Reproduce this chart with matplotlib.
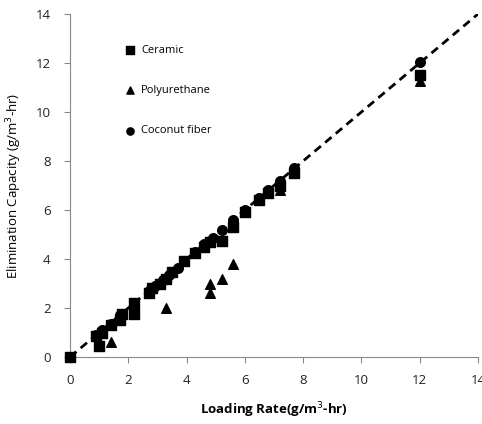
import matplotlib
matplotlib.use("Agg")
import matplotlib.pyplot as plt

plt.rcParams['font.family'] = ['Open Sans', 'DejaVu Sans']

ceramic_x = [0, 1.0, 0.9, 1.1, 1.4, 1.7, 1.8, 2.2, 2.2, 2.7, 2.8, 3.1, 3.3, 3.5, 3.9, 4.3, 4.6, 4.8, 5.2, 5.6, 6.0, 6.5, 6.8, 7.2, 7.7, 12.0]
ceramic_y = [0, 0.45, 0.85, 1.0, 1.3, 1.5, 1.75, 1.75, 2.2, 2.6, 2.8, 3.0, 3.2, 3.45, 3.9, 4.25, 4.5, 4.7, 4.75, 5.3, 5.9, 6.4, 6.7, 7.0, 7.5, 11.5]

poly_x = [0, 1.4, 3.3, 4.8, 4.8, 5.2, 5.6, 7.2, 12.0]
poly_y = [0, 0.6, 2.0, 2.6, 3.0, 3.2, 3.8, 6.8, 11.25]

coco_x = [0, 0.9, 1.1, 1.4, 1.7, 2.2, 2.7, 2.9, 3.2, 3.4, 3.7, 3.9, 4.3, 4.6, 4.9, 5.2, 5.6, 6.0, 6.5, 6.8, 7.2, 7.7, 12.0]
coco_y = [0, 0.9, 1.1, 1.35, 1.7, 2.15, 2.7, 2.9, 3.15, 3.35, 3.65, 3.9, 4.3, 4.6, 4.85, 5.2, 5.6, 6.0, 6.5, 6.8, 7.2, 7.7, 12.05]

fit_x = [0, 14]
fit_y = [0, 14]

xticks = [0, 2, 4, 6, 8, 10, 12, 14]
yticks = [0, 2, 4, 6, 8, 10, 12, 14]

fig = plt.figure(figsize=(4.82, 4.24), dpi=100)
ax = fig.add_axes([70/482, 67/424, 408/482, 343/424])

ax.plot(fit_x, fit_y, '--', color='black', lw=2, dashes=(3, 2), zorder=1)
ax.scatter(coco_x, coco_y, marker='o', s=48, color='black', label='Coconut fiber', zorder=3, clip_on=False)
ax.scatter(poly_x, poly_y, marker='^', s=48, color='black', label='Polyurethane', zorder=3, clip_on=False)
ax.scatter(ceramic_x, ceramic_y, marker='s', s=55, color='black', label='Ceramic', zorder=3, clip_on=False)

ax.set_xlim(0, 14)
ax.set_ylim(0, 14)
ax.set_xticks(xticks)
ax.set_yticks(yticks)
ax.tick_params(direction='out', length=4, color='#888888', labelsize=9.5, labelcolor='#222222', pad=8)
ax.tick_params(axis='y', pad=10)
for s in ['top', 'right']:
    ax.spines[s].set_visible(False)
for s in ['left', 'bottom']:
    ax.spines[s].set_color('#888888')
ax.set_xlabel('Loading Rate(g/m$^3$-hr)', fontsize=9.5, fontweight='bold', labelpad=10)
ax.set_ylabel('Elimination Capacity (g/m$^3$-hr)', fontsize=9.5, labelpad=8)

h, l = ax.get_legend_handles_labels()
order = [2, 1, 0]
leg = ax.legend([h[i] for i in order], [l[i] for i in order], loc='upper left',
                bbox_to_anchor=(0.095, 0.94), frameon=False, fontsize=8,
                labelspacing=2.65, handletextpad=0.0, markerscale=0.75, scatterpoints=1)

fig.savefig('out.png', dpi=100)
